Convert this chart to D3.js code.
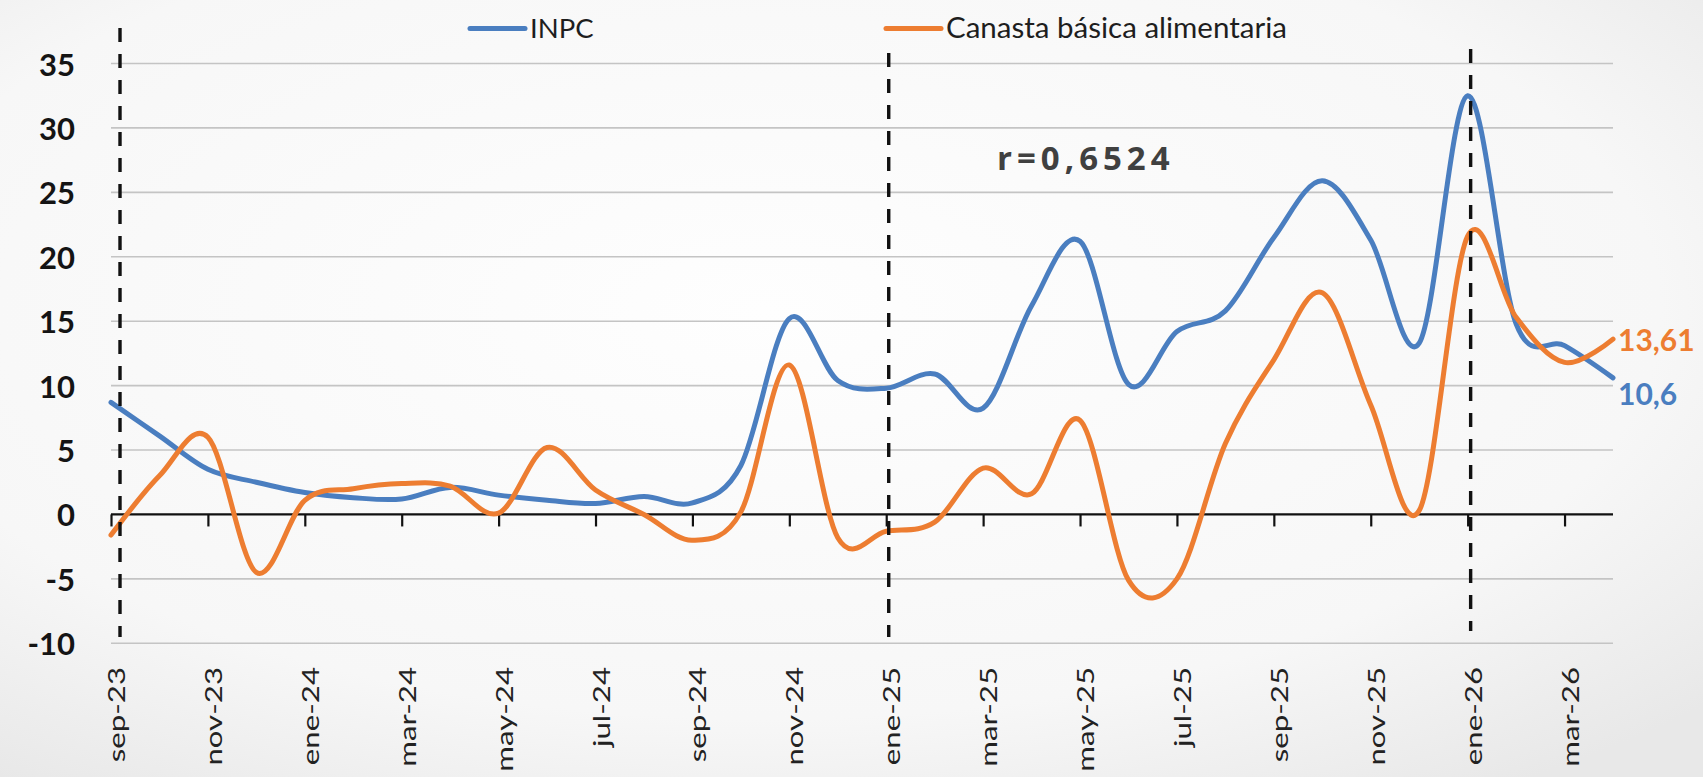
<!DOCTYPE html>
<html>
<head>
<meta charset="utf-8">
<script src="https://cdn.jsdelivr.net/npm/d3@7"></script>
<style>
  html, body { margin: 0; padding: 0; background: #f4f4f4; }
  svg { display: block; }
</style>
</head>
<body>
<svg id="chart" width="1703" height="777"></svg>
<script>
// ---------------- data ----------------
const months = ["sep-23","oct-23","nov-23","dic-23","ene-24","feb-24","mar-24","abr-24","may-24","jun-24","jul-24","ago-24",
  "sep-24","oct-24","nov-24","dic-24","ene-25","feb-25","mar-25","abr-25","may-25","jun-25","jul-25","ago-25",
  "sep-25","oct-25","nov-25","dic-25","ene-26","feb-26","mar-26","abr-26"];
const inpc = [8.7,6.1,3.5,2.5,1.7,1.3,1.2,2.1,1.5,1.1,0.85,1.4,0.9,3.8,15.2,10.4,9.8,10.9,8.25,16.2,21.2,10.1,14.2,15.8,
  21.5,25.9,21.3,13.3,32.5,14.8,13.1,10.6];
const canasta = [-1.6,3.0,6.0,-4.5,1.1,2.0,2.4,2.2,0.1,5.2,1.9,0.0,-2.0,0.2,11.6,-1.8,-1.3,-0.6,3.6,1.6,7.3,-5.1,-5.0,5.5,
  12.0,17.2,8.5,0.3,21.6,15.3,11.8,13.61];
const xTickLabels = ["sep-23","nov-23","ene-24","mar-24","may-24","jul-24","sep-24","nov-24","ene-25","mar-25","may-25",
  "jul-25","sep-25","nov-25","ene-26","mar-26"];
const yTicks = [-10,-5,0,5,10,15,20,25,30,35];
const markerMonths = ["sep-23","ene-25","ene-26"];
const seriesNames = ["INPC","Canasta básica alimentaria"];
const lastLabels = ["10,6","13,61"];
const corrText = "r=0,6524";

// ---------------- setup ----------------
const W = 1703, H = 777;
const blue = "#4a7ec0", orange = "#ed7d31";
const svg = d3.select("#chart");

const defs = svg.append("defs");
const rg = defs.append("radialGradient").attr("id","bg").attr("cx","45%").attr("cy","40%").attr("r","75%");
rg.append("stop").attr("offset","0%").attr("stop-color","#fefefe");
rg.append("stop").attr("offset","70%").attr("stop-color","#f7f7f7");
rg.append("stop").attr("offset","100%").attr("stop-color","#e8e8e8");
svg.append("rect").attr("width",W).attr("height",H).attr("fill","url(#bg)");

const x = d3.scalePoint().domain(months).range([111, 1613]);
const y = d3.scaleLinear().domain([-10, 35]).range([643.3, 63.5]);
const [x0, x1] = x.range();

// gridlines
svg.append("g").selectAll("line").data(yTicks.filter(d => d !== 0)).join("line")
  .attr("x1", x0).attr("x2", x1)
  .attr("y1", d => y(d)).attr("y2", d => y(d))
  .attr("stroke", "#c4c4c4").attr("stroke-width", 1.6);

// y axis labels
svg.append("g").selectAll("text").data(yTicks).join("text")
  .attr("x", 75).attr("y", d => y(d))
  .attr("text-anchor", "end").attr("dominant-baseline", "central")
  .attr("font-family", "Lato, 'Open Sans', sans-serif").attr("font-weight", 700)
  .attr("font-size", 31).attr("fill", "#141414")
  .text(d => d);

// x axis (zero line) with ticks every two months
const xAxis = d3.axisBottom(x).tickValues(xTickLabels).tickSize(12).tickSizeOuter(0).tickFormat("");
const gx = svg.append("g").attr("transform", `translate(0,${y(0)})`).call(xAxis);
gx.select(".domain").attr("stroke", "#111").attr("stroke-width", 2.2).attr("d", `M${x0},0H${x1}`);
gx.selectAll(".tick line").attr("stroke", "#111").attr("stroke-width", 2.2);

// x labels (rotated)
svg.append("g").selectAll("text").data(xTickLabels).join("text")
  .attr("transform", d => `translate(${x(d) + 5},667) rotate(-90) scale(1.3,1)`)
  .attr("text-anchor", "end").attr("dominant-baseline", "central")
  .attr("font-family", "Lato, 'Open Sans', sans-serif").attr("font-size", 24)
  .attr("fill", "#222")
  .text(d => d);

// series lines
const line = d3.line().x((d, i) => x(months[i])).y(d => y(d)).curve(d3.curveCatmullRom.alpha(0));
svg.append("path").datum(inpc).attr("d", line)
  .attr("fill", "none").attr("stroke", blue).attr("stroke-width", 5)
  .attr("stroke-linejoin", "round").attr("stroke-linecap", "round");
svg.append("path").datum(canasta).attr("d", line)
  .attr("fill", "none").attr("stroke", orange).attr("stroke-width", 5)
  .attr("stroke-linejoin", "round").attr("stroke-linecap", "round");

// dashed markers
const markerTop = [28, 53, 49];
const markerBottom = [637, 637, 631];
const markerNudge = [9, 2.5, 3];
svg.append("g").selectAll("line").data(markerMonths).join("line")
  .attr("x1", (d, i) => x(d) + markerNudge[i]).attr("x2", (d, i) => x(d) + markerNudge[i])
  .attr("y1", (d, i) => markerTop[i]).attr("y2", (d, i) => markerBottom[i])
  .attr("stroke", "#111").attr("stroke-width", 3.4).attr("stroke-dasharray", "14,12");

// legend
const legend = svg.append("g");
const legendX = [470, 886];
const legendSize = [27.5, 29.5];
seriesNames.forEach((name, i) => {
  legend.append("line").attr("x1", legendX[i]).attr("x2", legendX[i] + 55)
    .attr("y1", 28.5).attr("y2", 28.5)
    .attr("stroke", i === 0 ? blue : orange).attr("stroke-width", 5).attr("stroke-linecap", "round");
  legend.append("text").attr("x", legendX[i] + 60).attr("y", 38)
    .attr("font-family", "Lato, 'Open Sans', sans-serif").attr("font-size", legendSize[i])
    .attr("fill", "#1e1e1e").text(name);
});

// correlation annotation
svg.append("text").attr("x", 997).attr("y", 170)
  .attr("font-family", "'Open Sans', sans-serif").attr("font-weight", 700)
  .attr("font-size", 33).attr("letter-spacing", 5).attr("fill", "#404040")
  .text(corrText);

// end labels
const last = months.length - 1;
svg.append("text").attr("x", x(months[last]) + 5).attr("y", y(canasta[last]) + 12)
  .attr("font-family", "Lato, sans-serif").attr("font-weight", 700).attr("font-size", 30)
  .attr("fill", orange).text(lastLabels[1]);
svg.append("text").attr("x", x(months[last]) + 5).attr("y", y(inpc[last]) + 27)
  .attr("font-family", "Lato, sans-serif").attr("font-weight", 700).attr("font-size", 30)
  .attr("fill", blue).text(lastLabels[0]);
</script>
</body>
</html>
